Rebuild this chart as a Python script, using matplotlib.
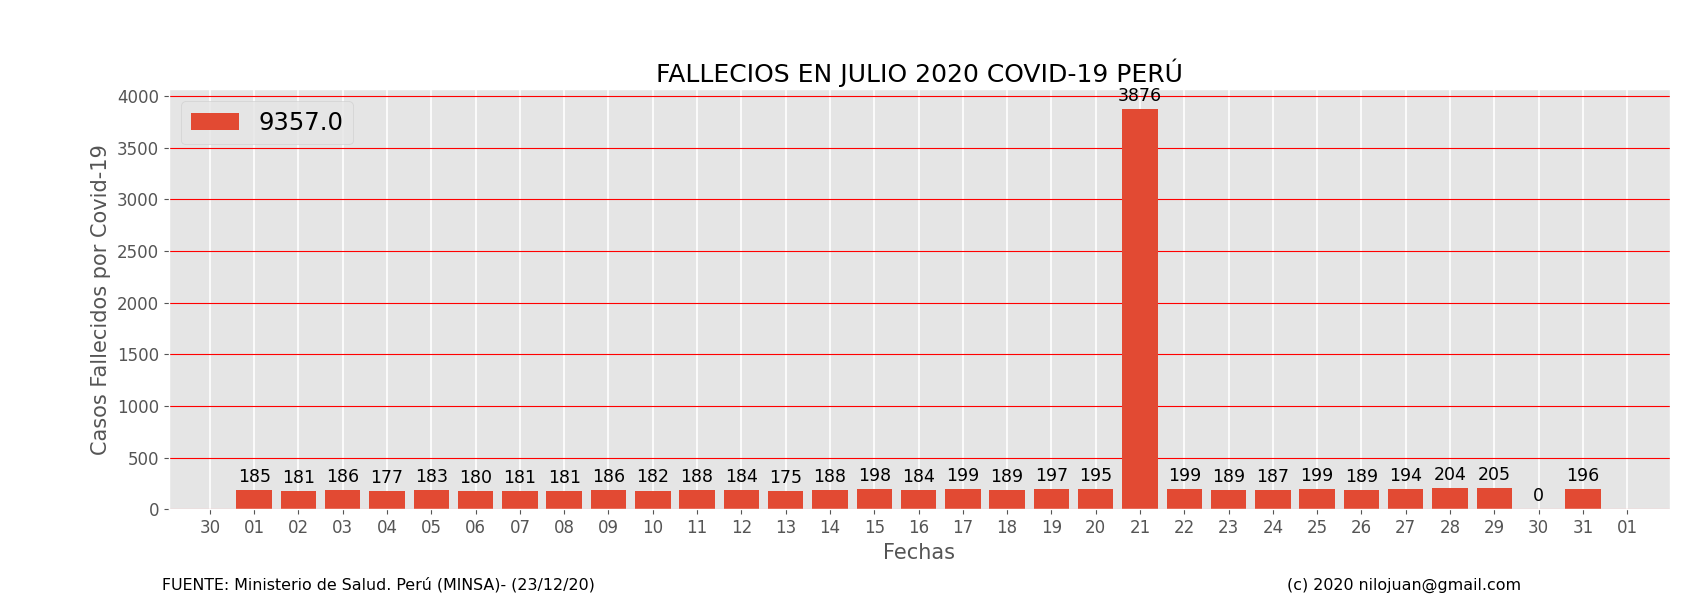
import matplotlib
matplotlib.use('Agg')
import matplotlib.pyplot as plt
import matplotlib.dates as mdates
import numpy as np
import datetime as dt

plt.style.use('ggplot')

dias = [dt.date(2020, 7, d) for d in range(1, 32)]
fallecidos = [185, 181, 186, 177, 183, 180, 181, 181, 186, 182, 188, 184, 175, 188, 198,
              184, 199, 189, 197, 195, 3876, 199, 189, 187, 199, 189, 194, 204, 205, 0, 196]
total = float(sum(fallecidos))

fig = plt.figure(figsize=(16.87, 6.0), dpi=100)
ax = fig.add_axes([0.100, 0.151, 0.890, 0.701])

x = mdates.date2num(dias)
bars = ax.bar(x, fallecidos, width=0.8, color='#E24A33', label=str(total))

for xi, v in zip(x, fallecidos):
    ax.annotate(str(v), (xi, v), xytext=(0, 3), textcoords='offset points',
                ha='center', va='bottom', fontsize=12.5, color='black')

ax.xaxis.set_major_locator(mdates.DayLocator())
ax.xaxis.set_major_formatter(mdates.DateFormatter('%d'))
ax.set_xlim(mdates.date2num(dt.date(2020, 6, 29)) + 0.07,
            mdates.date2num(dt.date(2020, 8, 1)) + 0.97)
ax.set_ylim(0, max(fallecidos) * 1.05)
ax.set_yticks(np.arange(0, 4001, 500))
ax.yaxis.grid(True, color='red', linewidth=0.8)
ax.xaxis.grid(True, color='white', linewidth=1.2)
ax.tick_params(labelsize=12)

ax.set_title('FALLECIOS EN JULIO 2020 COVID-19 PERÚ', fontsize=18, color='black', pad=5)
ax.set_xlabel('Fechas', fontsize=15)
ax.set_ylabel('Casos Fallecidos por Covid-19', fontsize=15)
ax.legend(loc='upper left', fontsize=17.5)

fig.text(0.096, 0.017, 'FUENTE: Ministerio de Salud. Perú (MINSA)- (23/12/20)', fontsize=11.4)
fig.text(0.763, 0.017, '(c) 2020 nilojuan@gmail.com', fontsize=11.4)

fig.savefig('out.png', dpi=100)
